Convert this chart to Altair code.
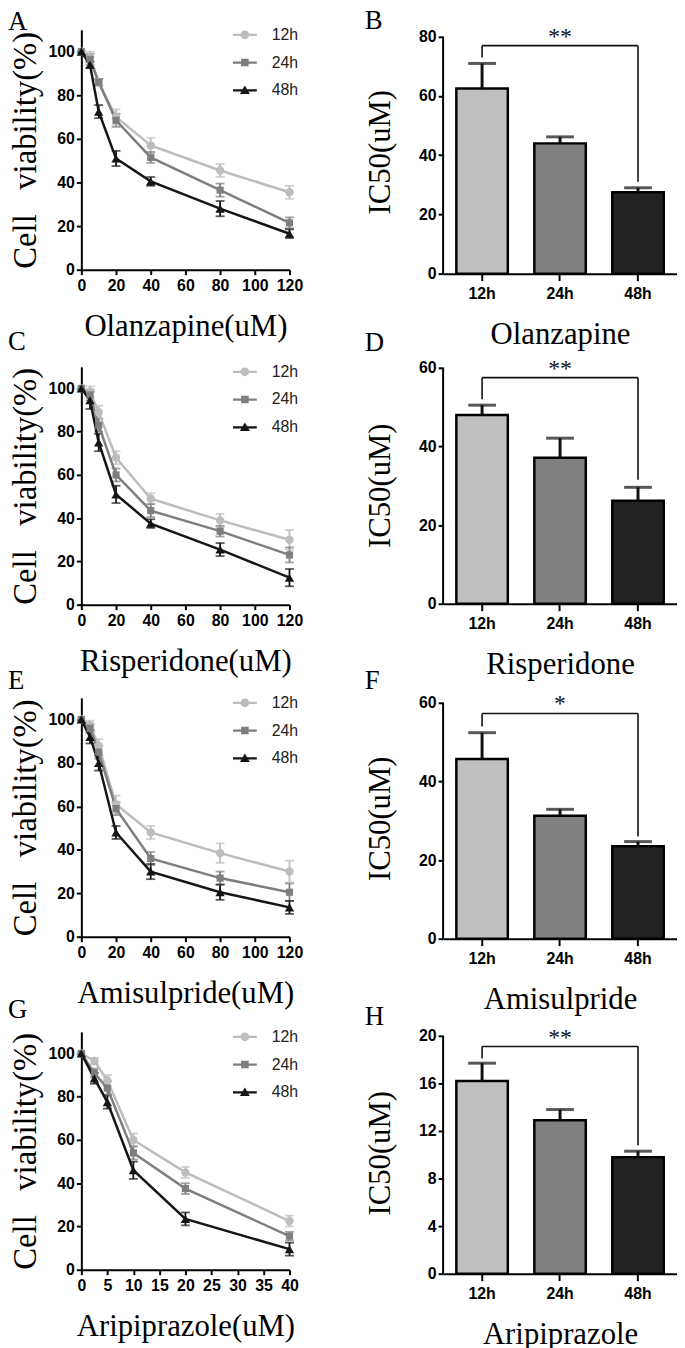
import altair as alt
import pandas as pd

# ---------------- data ----------------
SERIES = ["12h", "24h", "48h"]

# Olanzapine
olz_dose = [0, 5, 10, 20, 40, 80, 120]
olz_12h = [100, 97.5, 86, 70, 57, 45.5, 35.5]
olz_12h_err = [0, 2.5, 1.5, 3.5, 3.5, 3, 3]
olz_24h = [100, 96.5, 86, 68.5, 51.5, 36.5, 21.5]
olz_24h_err = [0, 2.5, 1.5, 3, 2.5, 3, 2.5]
olz_48h = [100, 94, 72.5, 51, 40.5, 28, 16.5]
olz_48h_err = [0, 1.5, 3, 3.5, 2, 3.5, 2]
olz_ic50 = [62.5, 44.0, 27.5]
olz_ic50_err = [8.5, 2.2, 1.5]
olz_sig = [77, 73, 31]          # bracket level, left end, right end
olz_stars = "**"

# Risperidone
ris_dose = [0, 5, 10, 20, 40, 80, 120]
ris_12h = [100, 98.5, 89, 68, 49, 39, 30]
ris_12h_err = [0, 2.5, 3, 3, 2.5, 3, 4.5]
ris_24h = [100, 97, 83, 60, 43.5, 34, 23]
ris_24h_err = [0, 2.5, 3, 3, 3, 2.5, 3.5]
ris_48h = [100, 94.5, 75, 51, 37.5, 25.5, 12.5]
ris_48h_err = [0, 4, 4, 4, 2, 3, 4]
ris_ic50 = [48.0, 37.1, 26.2]
ris_ic50_err = [2.5, 5.0, 3.4]
ris_sig = [57.5, 52, 31.5]
ris_stars = "**"

# Amisulpride
ami_dose = [0, 5, 10, 20, 40, 80, 120]
ami_12h = [100, 97.5, 88, 61, 48, 38.5, 30]
ami_12h_err = [0, 2, 3, 4, 3, 4.5, 5]
ami_24h = [100, 96, 85, 59, 36, 27, 20.5]
ami_24h_err = [0, 2, 3, 3, 3, 3, 4]
ami_48h = [100, 92, 80, 48, 30, 20.5, 13.5]
ami_48h_err = [0, 3, 3.5, 3, 3.5, 3.5, 3]
ami_ic50 = [45.7, 31.3, 23.5]
ami_ic50_err = [6.7, 1.6, 1.2]
ami_sig = [57.3, 54, 26]
ami_stars = "*"

# Aripiprazole
ari_dose = [0, 2.5, 5, 10, 20, 40]
ari_12h = [100, 96.5, 87.5, 60, 45, 22.5]
ari_12h_err = [0, 1.5, 2.5, 3, 2.5, 2.5]
ari_24h = [100, 91, 84, 54, 37.5, 15.5]
ari_24h_err = [0, 2, 3, 3, 2.5, 2]
ari_48h = [100, 88.5, 77.5, 46, 23.5, 9.5]
ari_48h_err = [0, 2.5, 3, 4, 3, 3]
ari_ic50 = [16.2, 12.9, 9.8]
ari_ic50_err = [1.5, 0.9, 0.5]
ari_sig = [19.1, 18.1, 10.8]
ari_stars = "**"

xticks_120 = [0, 20, 40, 60, 80, 100, 120]
xticks_40 = [0, 5, 10, 15, 20, 25, 30, 35, 40]
viab_ticks = [0, 20, 40, 60, 80, 100]
ic50_ticks_80 = [0, 20, 40, 60, 80]
ic50_ticks_60 = [0, 20, 40, 60]
ic50_ticks_20 = [0, 4, 8, 12, 16, 20]

# ---------------- styles ----------------
LINE_COLORS = ["#bdbdbd", "#7e7e7e", "#151515"]
BAR_COLORS = ["#c0c0c0", "#808080", "#222222"]
MARKERS = ["circle", "square", "triangle-up"]
MARKER_SIZES = [72, 52, 88]
LEGEND_SHAPES = [
    "M-3,-0.28H3V0.28H-3Z M1.1,0A1.1,1.1 0 1,1 -1.1,0A1.1,1.1 0 1,1 1.1,0Z",
    "M-3,-0.28H3V0.28H-3Z M-0.95,-0.95H0.95V0.95H-0.95Z",
    "M-3,-0.28H3V0.28H-3Z M0,-1.2L1.25,0.95H-1.25Z",
]
SERIF = "Liberation Serif"
SANS = "Liberation Sans"
YTITLE_LINE = "Cell\u00a0\u00a0\u00a0viability(%)"
LINE_W = 210
BAR_W = 236


def letter_title(letter, dx, offset):
    return alt.TitleParams(letter, anchor="start", frame="group", dx=dx, offset=offset,
                           font=SERIF, fontSize=27, fontWeight="normal", color="black",
                           baseline="alphabetic")


def line_panel(letter, xlabel, doses, means, errs, xticks, height, t_off):
    recs = []
    for s, mv, ev in zip(SERIES, means, errs):
        for d, m, e in zip(doses, mv, ev):
            recs.append({"dose": d, "v": m, "lo": m - e, "hi": m + e, "series": s})
    df = pd.DataFrame(recs)
    xs = alt.Scale(domain=[0, xticks[-1]], nice=False, zero=False)
    ys = alt.Scale(domain=[0, 110], nice=False, zero=False)
    xa = alt.Axis(values=xticks, title=xlabel, tickSize=5, labelPadding=3,
                  titlePadding=18, labelFlush=False, labelOverlap=False)
    ya = alt.Axis(values=viab_ticks, title=YTITLE_LINE, tickSize=5, labelPadding=2,
                  titlePadding=6, titleFontSize=33)

    def X(f):
        return alt.X(f"{f}:Q", scale=xs, axis=xa)

    def Y(f):
        return alt.Y(f"{f}:Q", scale=ys, axis=ya)

    cs = alt.Scale(domain=SERIES, range=LINE_COLORS)
    col = alt.Color("series:N", scale=cs, legend=None)
    base = alt.Chart(df)
    leg = alt.Legend(title=None, orient="none", legendX=157, legendY=-3,
                     labelFont=SANS, labelFontSize=16, labelColor="#222222",
                     symbolSize=64, symbolStrokeWidth=0, labelOffset=19,
                     rowPadding=12, padding=0)
    # legend-only layer (no rows drawn); it comes first so its legend wins the merge
    key = (base.transform_filter("false")
           .mark_point(filled=True, opacity=1)
           .encode(x=X("dose"), y=Y("v"),
                   color=alt.Color("series:N", scale=cs, legend=leg),
                   shape=alt.Shape("series:N",
                                   scale=alt.Scale(domain=SERIES, range=LEGEND_SHAPES),
                                   legend=leg)))
    eb = base.transform_filter("datum.hi > datum.lo")
    err = eb.mark_rule(strokeWidth=1.8).encode(x=X("dose"), y=Y("lo"), y2="hi:Q", color=col)
    cap_lo = eb.mark_tick(orient="horizontal", size=9, thickness=1.8).encode(
        x=X("dose"), y=Y("lo"), color=col)
    cap_hi = eb.mark_tick(orient="horizontal", size=9, thickness=1.8).encode(
        x=X("dose"), y=Y("hi"), color=col)
    line = base.mark_line(strokeWidth=2.5).encode(x=X("dose"), y=Y("v"), color=col)
    pts = [
        base.transform_filter(alt.datum.series == s)
        .mark_point(filled=True, opacity=1, shape=m, size=sz)
        .encode(x=X("dose"), y=Y("v"), color=col)
        for s, m, sz in zip(SERIES, MARKERS, MARKER_SIZES)
    ]
    return alt.layer(key, err, cap_lo, cap_hi, line, *pts).properties(
        width=LINE_W, height=height, title=letter_title(letter, -74, t_off))


def bar_panel(letter, xlabel, vals, errs, sig, stars, yticks, height, top_px, t_off):
    ytop = yticks[-1]
    dom_max = ytop * height / (height - top_px)
    df = pd.DataFrame({"series": SERIES, "v": vals,
                       "top": [v + e for v, e in zip(vals, errs)]})
    xs = alt.Scale(domain=SERIES, paddingInner=0.34, paddingOuter=0.17)
    xa = alt.Axis(title=xlabel, labelAngle=0, tickSize=7, labelPadding=5, titlePadding=18)
    ys = alt.Scale(domain=[0, dom_max], nice=False, zero=False)
    ya = alt.Axis(values=yticks, title="IC50(uM)", domain=False, tickSize=5,
                  labelPadding=2, titlePadding=22)

    def X(f):
        return alt.X(f"{f}:N", scale=xs, axis=xa, bandPosition=0.5)

    def Y(f):
        return alt.Y(f"{f}:Q", scale=ys, axis=ya)

    base = alt.Chart(df)
    bars = base.mark_bar(stroke="black", strokeWidth=2.5).encode(
        x=alt.X("series:N", scale=xs, axis=xa), y=Y("v"),
        fill=alt.Fill("series:N", scale=alt.Scale(domain=SERIES, range=BAR_COLORS),
                      legend=None))
    err = base.mark_rule(strokeWidth=3, color="#111111").encode(
        x=X("series"), y=Y("v"), y2="top:Q")
    cap = base.mark_tick(orient="horizontal", size=28, thickness=3, color="#111111").encode(
        x=X("series"), y=Y("top"))
    lvl, left_end, right_end = sig
    hdf = pd.DataFrame({"pos": [SERIES[0], SERIES[2]], "lvl": [lvl, lvl]})
    vdf = pd.DataFrame({"pos": [SERIES[0], SERIES[2]], "end": [left_end, right_end],
                        "lvl": [lvl, lvl]})
    br_h = alt.Chart(hdf).mark_line(strokeWidth=1.6, color="#111111").encode(
        x=X("pos"), y=Y("lvl"))
    br_v = alt.Chart(vdf).mark_rule(strokeWidth=1.6, color="#111111").encode(
        x=X("pos"), y=Y("end"), y2="lvl:Q")
    sdf = pd.DataFrame({"pos": [SERIES[1]], "lvl": [lvl], "t": [stars]})
    star = alt.Chart(sdf).mark_text(font=SERIF, fontSize=24, baseline="alphabetic", dy=-2,
                                    color="#111111").encode(x=X("pos"), y=Y("lvl"), text="t:N")
    yline = alt.Chart(pd.DataFrame({"a": [0]})).mark_rule(strokeWidth=2, color="black").encode(
        x=alt.value(0),
        y=alt.YDatum(0, type="quantitative", scale=ys, axis=ya),
        y2=alt.Y2Datum(ytop))
    return alt.layer(bars, err, cap, br_h, br_v, star, yline).properties(
        width=BAR_W, height=height, title=letter_title(letter, -79, t_off))


panels = [
    line_panel("A", "Olanzapine(uM)", olz_dose, [olz_12h, olz_24h, olz_48h],
               [olz_12h_err, olz_24h_err, olz_48h_err], xticks_120, 242, -30),
    bar_panel("B", "Olanzapine", olz_ic50, olz_ic50_err, olz_sig, olz_stars,
              ic50_ticks_80, 246, 7, -31),
    line_panel("C", "Risperidone(uM)", ris_dose, [ris_12h, ris_24h, ris_48h],
               [ris_12h_err, ris_24h_err, ris_48h_err], xticks_120, 240, -13),
    bar_panel("D", "Risperidone", ris_ic50, ris_ic50_err, ris_sig, ris_stars,
              ic50_ticks_60, 239, 1, -21),
    line_panel("E", "Amisulpride(uM)", ami_dose, [ami_12h, ami_24h, ami_48h],
               [ami_12h_err, ami_24h_err, ami_48h_err], xticks_120, 241, -21),
    bar_panel("F", "Amisulpride", ami_ic50, ami_ic50_err, ami_sig, ami_stars,
              ic50_ticks_60, 243, 5, -23),
    line_panel("G", "Aripiprazole(uM)", ari_dose, [ari_12h, ari_24h, ari_48h],
               [ari_12h_err, ari_24h_err, ari_48h_err], xticks_40, 240, -16),
    bar_panel("H", "Aripiprazole", ari_ic50, ari_ic50_err, ari_sig, ari_stars,
              ic50_ticks_20, 244, 4, -26),
]

chart = (
    alt.concat(*panels, columns=2, spacing={"row": 94, "column": 155}, bounds="flush")
    .resolve_scale(color="independent", shape="independent", fill="independent")
    .resolve_legend(color="independent", shape="independent")
    .properties(padding={"left": 0, "right": 0, "top": -8, "bottom": 0}, background="white")
    .configure_view(stroke=None)
    .configure_axis(domainColor="black", domainWidth=2, tickColor="black", tickWidth=2,
                    labelFont=SANS, labelFontSize=16, labelFontWeight="bold",
                    labelColor="black", titleFont=SERIF, titleFontSize=31,
                    titleFontWeight="normal", titleColor="black", grid=False)
)

chart.save("out.html", embed_options={"renderer": "svg", "actions": False})
